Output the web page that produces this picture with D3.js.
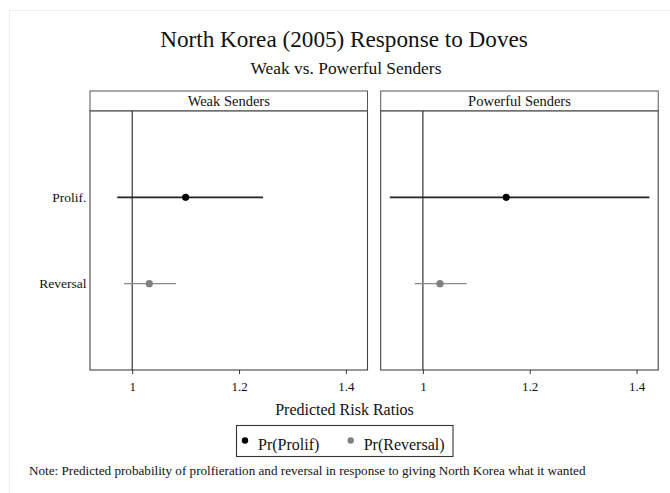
<!DOCTYPE html>
<html>
<head>
<meta charset="utf-8">
<script src="https://cdn.jsdelivr.net/npm/d3@7"></script>
<style>
  html, body { margin: 0; padding: 0; background: #fff; }
  svg text { font-family: "Liberation Serif", "DejaVu Serif", serif; fill: #111; }
</style>
</head>
<body>
<svg id="chart" width="670" height="493"></svg>
<script>
// Panels (sender type) and outcomes
const panels = ["Weak Senders", "Powerful Senders"];
const outcomes = ["Prolif.", "Reversal"];
const seriesNames = ["Pr(Prolif)", "Pr(Reversal)"];
const seriesColors = ["#000000", "#808080"];

// Point estimates and 95% intervals, per panel: [prolif, reversal]
const estimates = [[1.100, 1.032], [1.156, 1.032]];
const lower     = [[0.972, 0.9845], [0.938, 0.9845]];
const upper     = [[1.245, 1.082], [1.424, 1.082]];

const xTicks = [1, 1.2, 1.4];
const xDomain = [0.921, 1.4405];

const svg = d3.select("#chart");

// faint outer frame
svg.append("rect")
  .attr("x", 9.5).attr("y", 10.5).attr("width", 680).attr("height", 500)
  .attr("fill", "none").attr("stroke", "#e9f0ee").attr("stroke-width", 1);

// titles
svg.append("text").attr("x", 344).attr("y", 47).attr("text-anchor", "middle")
  .style("font-size", "23.2px").text("North Korea (2005) Response to Doves");
svg.append("text").attr("x", 346).attr("y", 74).attr("text-anchor", "middle")
  .style("font-size", "17.4px").text("Weak vs. Powerful Senders");

const panelLefts = [90, 380.7];
const panelWidth = 277.5;
const headerTop = 91, headerBottom = 111, plotBottom = 370;

const y = d3.scalePoint().domain(outcomes).range([headerBottom, plotBottom]).padding(1);

panels.forEach((name, p) => {
  const x0 = panelLefts[p], x1 = x0 + panelWidth;
  const x = d3.scaleLinear().domain(xDomain).range([x0, x1]);
  const g = svg.append("g");

  // strip header
  g.append("rect").attr("x", x0).attr("y", headerTop)
    .attr("width", panelWidth).attr("height", headerBottom - headerTop)
    .attr("fill", "#fff").attr("stroke", "#555").attr("stroke-width", 1);
  g.append("text").attr("x", (x0 + x1) / 2).attr("y", 105.5)
    .attr("text-anchor", "middle").style("font-size", "14.5px").text(name);

  // plot frame
  g.append("rect").attr("x", x0).attr("y", headerBottom)
    .attr("width", panelWidth).attr("height", plotBottom - headerBottom)
    .attr("fill", "#fff").attr("stroke", "#444").attr("stroke-width", 1.1);

  // reference line at 1
  g.append("line").attr("x1", x(1)).attr("x2", x(1))
    .attr("y1", headerBottom).attr("y2", plotBottom)
    .attr("stroke", "#222").attr("stroke-width", 1.1);

  // x axis
  const axis = g.append("g").attr("transform", `translate(0,${plotBottom})`)
    .call(d3.axisBottom(x).tickValues(xTicks).tickSize(4).tickPadding(8)
      .tickFormat(d3.format("")));
  axis.select(".domain").remove();
  axis.selectAll(".tick line").attr("stroke", "#333");
  axis.selectAll(".tick text").style("font-size", "13px")
    .style("font-family", "'Liberation Serif', serif").attr("fill", "#111");

  // intervals and points
  outcomes.forEach((o, i) => {
    g.append("line").attr("x1", x(lower[p][i])).attr("x2", x(upper[p][i]))
      .attr("y1", y(o)).attr("y2", y(o))
      .attr("stroke", i === 0 ? "#222" : "#8a8a8a")
      .attr("stroke-width", i === 0 ? 1.6 : 1.4);
    g.append("circle").attr("cx", x(estimates[p][i])).attr("cy", y(o)).attr("r", 3.6)
      .attr("fill", seriesColors[i]);
  });
});

// y labels
outcomes.forEach(o => {
  svg.append("text").attr("x", 86.5).attr("y", y(o) + 4.5)
    .attr("text-anchor", "end").style("font-size", "13.5px").text(o);
});

// x axis title
svg.append("text").attr("x", 344.5).attr("y", 415).attr("text-anchor", "middle")
  .style("font-size", "16px").text("Predicted Risk Ratios");

// legend
const lg = svg.append("g");
lg.append("rect").attr("x", 236.5).attr("y", 425.5).attr("width", 216.5).attr("height", 31)
  .attr("fill", "#fff").attr("stroke", "#333").attr("stroke-width", 1.1);
const legendX = [245, 350.7];
seriesNames.forEach((s, i) => {
  lg.append("circle").attr("cx", legendX[i]).attr("cy", 440.5).attr("r", 3.2)
    .attr("fill", seriesColors[i]);
  lg.append("text").attr("x", legendX[i] + 13).attr("y", 450)
    .style("font-size", "16px").text(s);
});

// note
svg.append("text").attr("x", 29).attr("y", 475).style("font-size", "13.15px")
  .text("Note: Predicted probability of prolfieration and reversal in response to giving North Korea what it wanted");
</script>
</body>
</html>
